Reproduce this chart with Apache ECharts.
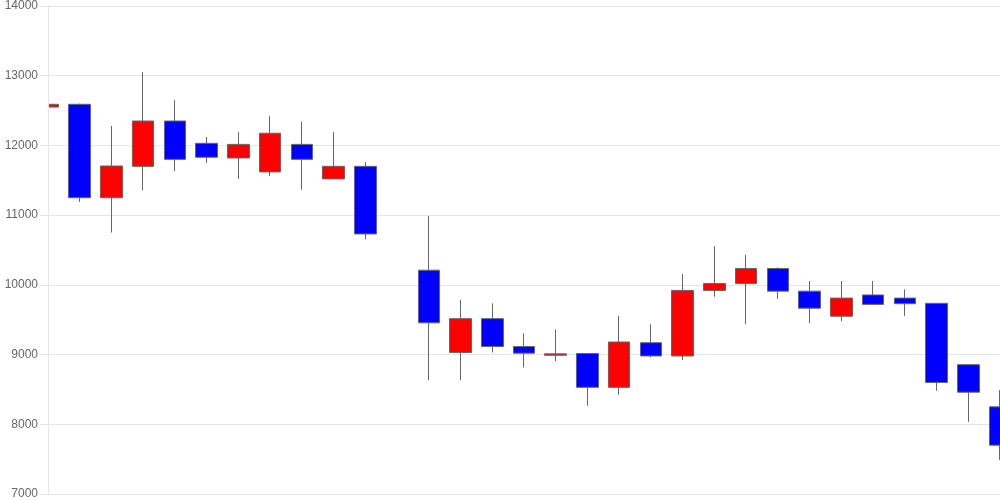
<!DOCTYPE html>
<html>
<head>
<meta charset="utf-8">
<script src="https://cdn.jsdelivr.net/npm/echarts@6/dist/echarts.min.js"></script>
<style>html,body{margin:0;padding:0;background:#fff}#c{width:1000px;height:500px}</style>
</head>
<body>
<div id="c"></div>
<script>
const categories = ['1','2','3','4','5','6','7','8','9','10','11','12','13','14','15','16','17','18','19','20','21','22','23','24','25','26','27','28','29','30','31'];
const openVals  = [12550,12590,11250,11700,12350,12030,11820,11620,12015,11520,11700,'-',10210, 9030, 9515, 9115, 8990, 9015, 8530, 9170, 8980, 9920,10020,10235, 9910, 9550, 9855, 9810, 9735, 8855, 8250];
const closeVals = [12590,11250,11705,12350,11800,11830,12015,12175,11800,11700,10730,'-', 9455, 9515, 9115, 9020, 9010, 8530, 9180, 8980, 9920,10020,10235, 9910, 9665, 9810, 9720, 9730, 8600, 8460, 7700];
const lowVals   = [12100,11190,10750,11360,11630,11750,11520,11560,11365,11515,10655,'-', 8635, 8635, 9030, 8815, 8905, 8265, 8425, 8960, 8920, 9830, 9435, 9800, 9450, 9480, 9720, 9555, 8480, 8035, 7490];
const highVals  = [13310,12600,12280,13050,12650,12120,12190,12420,12340,12190,11760,'-',10990, 9785, 9735, 9305, 9360, 9015, 9555, 9435,10155,10555,10430,10250,10055,10055,10055, 9935, 9735, 8855, 8490];
const yTicks = [7000, 8000, 9000, 10000, 11000, 12000, 13000, 14000];

const data = categories.map((c, i) => [openVals[i], closeVals[i], lowVals[i], highVals[i]]);

const yMin = yTicks[0], yMax = yTicks[yTicks.length - 1];
const chart = echarts.init(document.getElementById('c'), null, {renderer: 'canvas'});
chart.setOption({
  animation: false,
  backgroundColor: '#fff',
  grid: {left: 48, right: 0, top: 6, bottom: 6, containLabel: false},
  graphic: [{
    type: 'rect',
    left: 0, top: 0, z: 5,
    shape: {x: 0, y: 0, width: 48, height: 500},
    style: {fill: '#fff'},
    silent: true
  }],
  xAxis: {
    type: 'category',
    data: categories,
    boundaryGap: false,
    axisLine: {show: false},
    axisTick: {show: false},
    axisLabel: {show: false},
    splitLine: {show: false}
  },
  yAxis: [{
    type: 'value',
    z: 0,
    min: yMin, max: yMax, interval: 1000,
    axisLine: {show: false},
    axisTick: {show: false},
    axisLabel: {show: false},
    splitLine: {show: true, lineStyle: {color: '#e6e6e6', width: 1}}
  }, {
    type: 'value',
    position: 'left',
    z: 10,
    min: yMin, max: yMax, interval: 1000,
    axisLine: {show: true, lineStyle: {color: '#e6e6e6', width: 1}},
    axisTick: {show: true, length: 8, lineStyle: {color: '#e6e6e6'}},
    axisLabel: {
      color: '#666', fontSize: 12, margin: 10,
      fontFamily: '"Liberation Sans", Arial, sans-serif',
      formatter: v => String(v)
    },
    splitLine: {show: false}
  }],
  series: [{
    type: 'candlestick',
    z: 2,
    yAxisIndex: 0,
    data: data,
    barWidth: 22,
    itemStyle: {
      color: '#ff0000',
      color0: '#0000ff',
      borderColor: '#666',
      borderColor0: '#666',
      borderWidth: 1
    }
  }]
});
</script>
</body>
</html>
